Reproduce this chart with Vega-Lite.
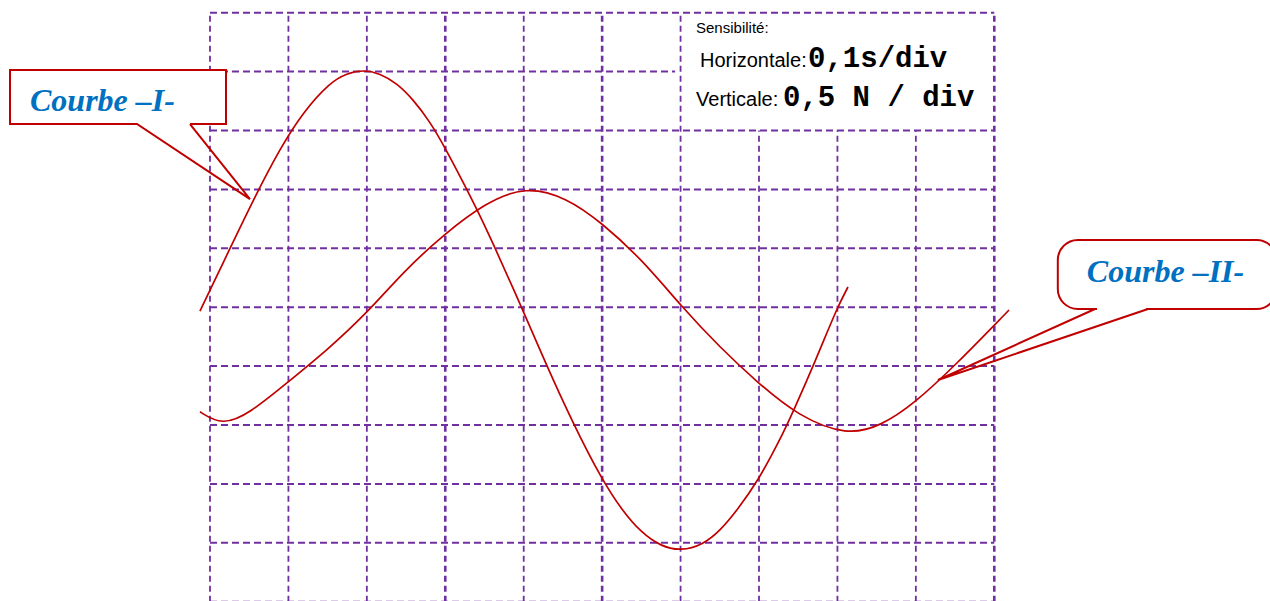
{
  "$schema": "https://vega.github.io/schema/vega-lite/v6.json",
  "width": 1270,
  "height": 601,
  "autosize": {"type": "none"},
  "padding": 0,
  "background": "white",
  "config": {"view": {"stroke": null}},
  "datasets": {
    "vthin": [
      {"x": 0, "y": -5, "y2": 5},
      {"x": 1, "y": -5, "y2": 5},
      {"x": 2, "y": -5, "y2": 5},
      {"x": 4, "y": -5, "y2": 5},
      {"x": 6, "y": -5, "y2": 5},
      {"x": 7, "y": -5, "y2": 3},
      {"x": 8, "y": -5, "y2": 3},
      {"x": 9, "y": -5, "y2": 3}
    ],
    "vthick": [
      {"x": 3, "y": -5, "y2": 5},
      {"x": 5, "y": -5, "y2": 5},
      {"x": 10, "y": -5, "y2": 5}
    ],
    "hlines": [
      {"y": 5, "x": 0, "x2": 10},
      {"y": 4, "x": 0, "x2": 5.93},
      {"y": 3, "x": 0, "x2": 10},
      {"y": 2, "x": 0, "x2": 10},
      {"y": 1, "x": 0, "x2": 10},
      {"y": 0, "x": 0, "x2": 10},
      {"y": -1, "x": 0, "x2": 10},
      {"y": -2, "x": 0, "x2": 10},
      {"y": -3, "x": 0, "x2": 10},
      {"y": -4, "x": 0, "x2": 10},
      {"y": -5, "x": 0, "x2": 10}
    ],
    "curves": [
      {"curve": "I", "x": -0.128, "y": -0.065},
      {"curve": "I", "x": 0.255, "y": 0.997},
      {"curve": "I", "x": 0.548, "y": 1.812},
      {"curve": "I", "x": 0.893, "y": 2.695},
      {"curve": "I", "x": 1.18, "y": 3.3},
      {"curve": "I", "x": 1.53, "y": 3.82},
      {"curve": "I", "x": 1.747, "y": 3.97},
      {"curve": "I", "x": 1.951, "y": 4.03},
      {"curve": "I", "x": 2.168, "y": 3.97},
      {"curve": "I", "x": 2.385, "y": 3.8},
      {"curve": "I", "x": 2.588, "y": 3.53},
      {"curve": "I", "x": 2.805, "y": 3.15},
      {"curve": "I", "x": 3.0, "y": 2.7},
      {"curve": "I", "x": 3.213, "y": 2.16},
      {"curve": "I", "x": 3.404, "y": 1.66},
      {"curve": "I", "x": 3.6, "y": 1.11},
      {"curve": "I", "x": 3.978, "y": -0.014},
      {"curve": "I", "x": 4.284, "y": -0.964},
      {"curve": "I", "x": 4.628, "y": -1.97},
      {"curve": "I", "x": 4.998, "y": -2.93},
      {"curve": "I", "x": 5.25, "y": -3.44},
      {"curve": "I", "x": 5.5, "y": -3.83},
      {"curve": "I", "x": 5.75, "y": -4.06},
      {"curve": "I", "x": 6.005, "y": -4.14},
      {"curve": "I", "x": 6.286, "y": -4.03},
      {"curve": "I", "x": 6.5, "y": -3.8},
      {"curve": "I", "x": 6.719, "y": -3.45},
      {"curve": "I", "x": 6.987, "y": -2.95},
      {"curve": "I", "x": 7.268, "y": -2.25},
      {"curve": "I", "x": 7.433, "y": -1.78},
      {"curve": "I", "x": 7.714, "y": -0.93},
      {"curve": "I", "x": 7.994, "y": -0.014},
      {"curve": "I", "x": 8.135, "y": 0.343},
      {"curve": "II", "x": -0.128, "y": -1.776},
      {"curve": "II", "x": 0.153, "y": -2.01},
      {"curve": "II", "x": 0.51, "y": -1.8},
      {"curve": "II", "x": 1.007, "y": -1.256},
      {"curve": "II", "x": 1.5, "y": -0.72},
      {"curve": "II", "x": 2.002, "y": -0.098},
      {"curve": "II", "x": 2.486, "y": 0.632},
      {"curve": "II", "x": 2.996, "y": 1.25},
      {"curve": "II", "x": 3.5, "y": 1.76},
      {"curve": "II", "x": 4.016, "y": 2.06},
      {"curve": "II", "x": 4.552, "y": 1.86},
      {"curve": "II", "x": 4.998, "y": 1.43},
      {"curve": "II", "x": 5.5, "y": 0.82},
      {"curve": "II", "x": 6.018, "y": 0.003},
      {"curve": "II", "x": 6.5, "y": -0.68},
      {"curve": "II", "x": 6.987, "y": -1.286},
      {"curve": "II", "x": 7.5, "y": -1.85},
      {"curve": "II", "x": 8.122, "y": -2.18},
      {"curve": "II", "x": 8.55, "y": -2.02},
      {"curve": "II", "x": 8.989, "y": -1.626},
      {"curve": "II", "x": 9.5, "y": -0.99},
      {"curve": "II", "x": 10.188, "y": -0.048}
    ],
    "box1": [{"x": -2.55, "x2": 0.204, "y": 4.027, "y2": 3.11}],
    "outline1": [
      {"i": 0, "x": -0.255, "y": 3.11},
      {"i": 1, "x": 0.204, "y": 3.11},
      {"i": 2, "x": 0.204, "y": 4.027},
      {"i": 3, "x": -2.55, "y": 4.027},
      {"i": 4, "x": -2.55, "y": 3.11},
      {"i": 5, "x": -0.931, "y": 3.11},
      {"i": 6, "x": 0.51, "y": 1.836},
      {"i": 7, "x": -0.255, "y": 3.11}
    ],
    "box2": [{"x": 10.81, "x2": 13.6, "y": 1.141, "y2": -0.03}],
    "gap2": [{"x": 11.31, "x2": 11.935, "y": -0.03}],
    "wedge2": [
      {"i": 0, "x": 11.284, "y": -0.03},
      {"i": 1, "x": 9.282, "y": -1.236},
      {"i": 2, "x": 11.96, "y": -0.03}
    ],
    "callouts": [
      {"label": "Courbe –I-", "x": -2.295, "y": 3.331},
      {"label": "Courbe –II-", "x": 11.18, "y": 0.428}
    ],
    "sens": [{"label": "Sensibilité:", "x": 6.197, "y": 4.655}],
    "names": [
      {"label": "Horizontale:", "x": 6.248, "y": 4.078},
      {"label": "Verticale:", "x": 6.197, "y": 3.416}
    ],
    "values": [
      {"label": "0,1s/div", "x": 7.625, "y": 4.078},
      {"label": "0,5 N / div", "x": 7.306, "y": 3.416}
    ]
  },
  "encoding": {
    "x": {"field": "x", "type": "quantitative", "scale": {"domain": [-2.6775, 13.5155], "nice": false, "zero": false}, "axis": null},
    "y": {"field": "y", "type": "quantitative", "scale": {"domain": [-4.988, 5.2156], "nice": false, "zero": false}, "axis": null}
  },
  "layer": [
    {
      "data": {"name": "vthin"},
      "mark": {"type": "rule", "color": "#7030A0", "strokeWidth": 1.8, "strokeDash": [6, 4]},
      "encoding": {"y2": {"field": "y2"}}
    },
    {
      "data": {"name": "vthick"},
      "mark": {"type": "rule", "color": "#7030A0", "strokeWidth": 2.6, "strokeDash": [6, 4]},
      "encoding": {"y2": {"field": "y2"}}
    },
    {
      "data": {"name": "hlines"},
      "mark": {"type": "rule", "color": "#7030A0", "strokeWidth": 2, "strokeDash": [7, 4]},
      "encoding": {"x2": {"field": "x2"}}
    },
    {
      "data": {"name": "curves"},
      "mark": {"type": "line", "color": "#C00000", "strokeWidth": 1.7, "interpolate": "basis"},
      "encoding": {"detail": {"field": "curve", "type": "nominal"}}
    },
    {
      "data": {"name": "box1"},
      "mark": {"type": "rect", "fill": "white", "strokeWidth": 0},
      "encoding": {"x2": {"field": "x2"}, "y2": {"field": "y2"}}
    },
    {
      "data": {"name": "outline1"},
      "mark": {"type": "line", "color": "#C00000", "strokeWidth": 2},
      "encoding": {"order": {"field": "i", "type": "quantitative"}}
    },
    {
      "data": {"name": "box2"},
      "mark": {"type": "rect", "fill": "white", "stroke": "#C00000", "strokeWidth": 2, "cornerRadius": 20},
      "encoding": {"x2": {"field": "x2"}, "y2": {"field": "y2"}}
    },
    {
      "data": {"name": "gap2"},
      "mark": {"type": "rule", "color": "white", "strokeWidth": 4},
      "encoding": {"x2": {"field": "x2"}}
    },
    {
      "data": {"name": "wedge2"},
      "mark": {"type": "line", "color": "#C00000", "strokeWidth": 2},
      "encoding": {"order": {"field": "i", "type": "quantitative"}}
    },
    {
      "data": {"name": "callouts"},
      "mark": {"type": "text", "font": "Liberation Serif", "fontWeight": "bold", "fontStyle": "italic", "fontSize": 32, "color": "#0070C0", "align": "left", "baseline": "alphabetic"},
      "encoding": {"text": {"field": "label"}}
    },
    {
      "data": {"name": "sens"},
      "mark": {"type": "text", "font": "Liberation Sans", "fontSize": 15, "color": "black", "align": "left", "baseline": "alphabetic"},
      "encoding": {"text": {"field": "label"}}
    },
    {
      "data": {"name": "names"},
      "mark": {"type": "text", "font": "Liberation Sans", "fontSize": 20, "color": "black", "align": "left", "baseline": "alphabetic"},
      "encoding": {"text": {"field": "label"}}
    },
    {
      "data": {"name": "values"},
      "mark": {"type": "text", "font": "Liberation Mono", "fontWeight": "bold", "fontSize": 29, "color": "black", "align": "left", "baseline": "alphabetic"},
      "encoding": {"text": {"field": "label"}}
    }
  ]
}
